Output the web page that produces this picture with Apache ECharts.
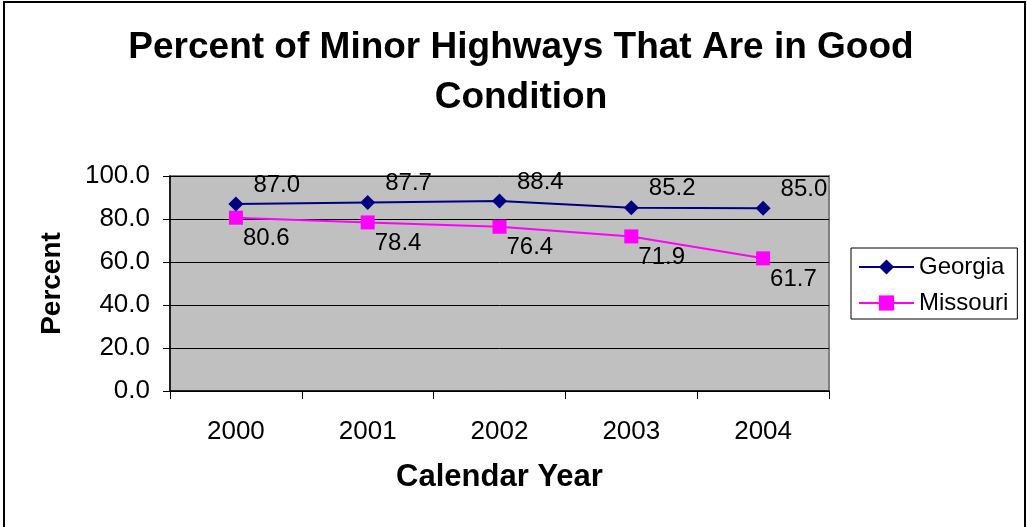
<!DOCTYPE html>
<html>
<head>
<meta charset="utf-8">
<script src="https://cdn.jsdelivr.net/npm/echarts@6/dist/echarts.min.js"></script>
<style>
  html, body { margin: 0; padding: 0; background: #fff; }
  #main { width: 1027px; height: 527px; }
</style>
</head>
<body>
<div id="main"></div>
<script>
var years = ['2000', '2001', '2002', '2003', '2004'];
var georgia = [87.0, 87.7, 88.4, 85.2, 85.0];
var missouri = [80.6, 78.4, 76.4, 71.9, 61.7];

var FONT = 'Liberation Sans, Arial, sans-serif';

var myChart = echarts.init(document.getElementById('main'));

var option = {
    backgroundColor: '#fff',
    animation: false,
    textStyle: { fontFamily: FONT, color: '#000' },
    title: {
        text: 'Percent of Minor Highways That Are in Good\nCondition',
        left: 516,
        top: 18,
        textAlign: 'center',
        textStyle: { fontFamily: FONT, fontSize: 37, fontWeight: 'bold', color: '#000', lineHeight: 50 }
    },
    graphic: [{
        type: 'rect',
        shape: { x: 4, y: 2, width: 1021, height: 540 },
        style: { fill: 'none', stroke: '#000', lineWidth: 2 },
        silent: true
    }],
    legend: {
        orient: 'vertical',
        left: 851,
        top: 248,
        data: ['Georgia', 'Missouri'],
        itemWidth: 55,
        itemHeight: 19,
        itemGap: 12,
        borderColor: '#000',
        borderWidth: 1,
        padding: [7, 9, 4, 7],
        textStyle: { fontFamily: FONT, fontSize: 24, color: '#000' }
    },
    grid: {
        left: 170,
        right: 198,
        top: 176,
        bottom: 136,
        show: true,
        backgroundColor: '#C0C0C0',
        borderColor: '#808080',
        borderWidth: 2
    },
    xAxis: {
        type: 'category',
        data: years,
        boundaryGap: true,
        name: 'Calendar Year',
        nameLocation: 'middle',
        nameGap: 71,
        nameTextStyle: { fontFamily: FONT, fontSize: 31, fontWeight: 'bold', color: '#000' },
        axisLine: { lineStyle: { color: '#000', width: 1.5 } },
        axisTick: { show: true, interval: 0, length: 8, lineStyle: { color: '#000' } },
        axisLabel: { fontFamily: FONT, fontSize: 26, color: '#000', margin: 28 },
        splitLine: { show: false }
    },
    yAxis: {
        type: 'value',
        min: 0,
        max: 100,
        interval: 20,
        name: 'Percent',
        nameLocation: 'middle',
        nameGap: 104,
        nameTextStyle: { fontFamily: FONT, fontSize: 28, fontWeight: 'bold', color: '#000' },
        axisLine: { show: true, lineStyle: { color: '#000', width: 1.5 } },
        axisTick: { show: true, length: 7, lineStyle: { color: '#000' } },
        axisLabel: {
            fontFamily: FONT, fontSize: 26, color: '#000', margin: 20,
            formatter: function (v) { return v.toFixed(1); }
        },
        splitLine: { show: true, lineStyle: { color: '#000', width: 1 } }
    },
    series: [
        {
            name: 'Georgia',
            type: 'line',
            data: georgia,
            symbol: 'diamond',
            symbolSize: 15,
            color: '#000080',
            lineStyle: { color: '#000080', width: 2 },
            itemStyle: { color: '#000080' },
            label: {
                show: true,
                position: 'right',
                distance: 10,
                offset: [0, -19],
                fontFamily: FONT,
                fontSize: 24,
                color: '#000',
                formatter: function (p) { return p.value.toFixed(1); }
            },
            z: 3
        },
        {
            name: 'Missouri',
            type: 'line',
            data: missouri,
            symbol: 'rect',
            symbolSize: 14,
            color: '#FF00FF',
            lineStyle: { color: '#FF00FF', width: 2 },
            itemStyle: { color: '#FF00FF' },
            label: {
                show: true,
                position: 'right',
                distance: 0,
                offset: [0, 21],
                fontFamily: FONT,
                fontSize: 24,
                color: '#000',
                formatter: function (p) { return p.value.toFixed(1); }
            },
            z: 2
        }
    ]
};

myChart.setOption(option);
</script>
</body>
</html>
